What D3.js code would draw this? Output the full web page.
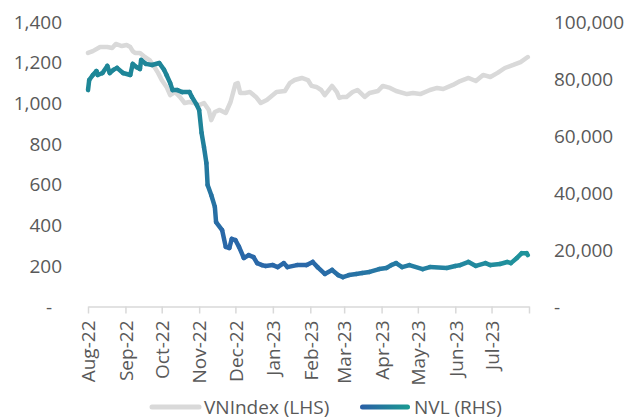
<!DOCTYPE html>
<meta charset="utf-8">
<head>
    <script src="https://cdn.jsdelivr.net/npm/d3@7"></script>
</head>
<style>
    body { margin: 0; background: white; }
    text { font-family: "Open Sans", sans-serif; font-size: 19px; fill: #595959; }
</style>
<body>
<div id="my_dataviz"></div>
<script>

// VNIndex (left axis)
var vnDates = ["2022-08-01","2022-08-05","2022-08-11","2022-08-17","2022-08-21","2022-08-24","2022-08-29","2022-09-02",
  "2022-09-05","2022-09-07","2022-09-09","2022-09-13","2022-09-17","2022-09-21","2022-09-25","2022-09-28","2022-10-01",
  "2022-10-05","2022-10-08","2022-10-12","2022-10-16","2022-10-20","2022-10-24","2022-10-28","2022-11-01","2022-11-05",
  "2022-11-09","2022-11-11","2022-11-14","2022-11-18","2022-11-23","2022-11-27","2022-12-01","2022-12-03","2022-12-05",
  "2022-12-09","2022-12-13","2022-12-18","2022-12-22","2022-12-27","2023-01-04","2023-01-11","2023-01-15","2023-01-19",
  "2023-01-25","2023-01-30","2023-02-02","2023-02-06","2023-02-10","2023-02-13","2023-02-19","2023-02-23","2023-02-25",
  "2023-02-28","2023-03-03","2023-03-08","2023-03-12","2023-03-18","2023-03-22","2023-03-29","2023-04-02","2023-04-08",
  "2023-04-13","2023-04-22","2023-04-27","2023-05-03","2023-05-11","2023-05-17","2023-05-22","2023-05-30","2023-06-05",
  "2023-06-12","2023-06-18","2023-06-24","2023-06-30","2023-07-06","2023-07-12","2023-07-19","2023-07-25","2023-07-31"];
var vnValues = [1248,1257,1277,1277,1272,1292,1282,1287,
  1277,1257,1248,1248,1228,1213,1179,1150,1115,
  1081,1041,1056,1032,1002,1007,1002,992,1002,
  968,918,958,968,953,1007,1095,1100,1051,
  1051,1056,1032,1002,1017,1056,1061,1100,1115,
  1125,1115,1086,1081,1066,1041,1086,1056,1027,
  1032,1032,1056,1066,1032,1051,1061,1086,1076,
  1061,1046,1051,1046,1066,1076,1071,1091,1110,
  1125,1110,1140,1130,1150,1174,1189,1203,1228];

// NVL (right axis)
var nvlDates = ["2022-08-01","2022-08-02","2022-08-05","2022-08-08","2022-08-09","2022-08-13","2022-08-17","2022-08-19",
  "2022-08-22","2022-08-25","2022-08-30","2022-09-05","2022-09-07","2022-09-10","2022-09-13","2022-09-14","2022-09-18",
  "2022-09-23","2022-09-29","2022-10-03","2022-10-05","2022-10-08","2022-10-10","2022-10-14","2022-10-18","2022-10-24",
  "2022-10-26","2022-10-30","2022-11-01","2022-11-03","2022-11-05","2022-11-07","2022-11-08","2022-11-11","2022-11-14",
  "2022-11-15","2022-11-20","2022-11-23","2022-11-26","2022-11-28","2022-12-01","2022-12-04","2022-12-08","2022-12-12",
  "2022-12-16","2022-12-19","2022-12-23","2022-12-26","2023-01-01","2023-01-05","2023-01-10","2023-01-13","2023-01-21",
  "2023-01-29","2023-02-03","2023-02-07","2023-02-13","2023-02-19","2023-02-24","2023-02-28","2023-03-05","2023-03-11",
  "2023-03-16","2023-03-22","2023-03-30","2023-04-05","2023-04-09","2023-04-13","2023-04-18","2023-04-24","2023-05-05",
  "2023-05-11","2023-05-25","2023-06-01","2023-06-05","2023-06-12","2023-06-18","2023-06-26","2023-06-30","2023-07-08",
  "2023-07-14","2023-07-17","2023-07-22","2023-07-26","2023-07-30","2023-07-31"];
var nvlValues = [76100,79650,81400,82800,81400,82100,84600,82100,
  83200,83900,82100,81400,85300,84200,83500,86700,85300,
  84900,85600,83200,81400,78600,76100,76100,75400,75400,
  73700,70900,69100,61100,56100,50500,42800,39300,35100,
  29800,27000,21100,20700,23900,23500,21100,17200,18200,
  17500,15400,14700,14400,14700,14000,15400,14000,14700,
  14700,15800,14000,11600,13000,11200,10500,11200,11600,
  11900,12300,13300,13700,14700,15400,14000,14700,13300,
  14000,13700,14400,14700,15800,14400,15400,14700,15100,
  15800,15400,17200,18900,18900,18200];

var monthTicks = ["2022-08-01","2022-09-01","2022-10-01","2022-11-01","2022-12-01","2023-01-01","2023-02-01",
  "2023-03-01","2023-04-01","2023-05-01","2023-06-01","2023-07-01","2023-08-01"];
var leftTicks = [0, 200, 400, 600, 800, 1000, 1200, 1400];
var rightTicks = [0, 20000, 40000, 60000, 80000, 100000];

var width = 628, height = 420;
var plot = {left: 88, right: 529, top: 22, bottom: 307};

var parse = d3.utcParse("%Y-%m-%d");
var fmtMonth = d3.utcFormat("%b-%y");
var fmtNum = d3.format(",");

var svg = d3.select("#my_dataviz").append("svg")
    .attr("width", width)
    .attr("height", height);

var x = d3.scaleUtc()
    .domain([parse("2022-08-01"), parse("2023-08-01")])
    .range([plot.left, plot.right]);
var yL = d3.scaleLinear().domain([0, 1400]).range([plot.bottom, plot.top]);
var yR = d3.scaleLinear().domain([0, 100000]).range([plot.bottom, plot.top]);

// x axis
var xAxis = svg.append("g")
    .attr("transform", "translate(0," + (plot.bottom - 0.5) + ")")
    .call(d3.axisBottom(x)
        .tickValues(monthTicks.map(parse))
        .tickSize(7)
        .tickSizeOuter(0)
        .tickFormat(function(d, i) { return i < monthTicks.length - 1 ? fmtMonth(d) : ""; }));
xAxis.select(".domain").attr("stroke", "#d9d9d9").attr("stroke-width", 1.5);
xAxis.selectAll(".tick line").attr("stroke", "#d9d9d9").attr("stroke-width", 1.5);
xAxis.selectAll(".tick text")
    .attr("fill", "#595959")
    .attr("font-size", null)
    .attr("font-family", null)
    .attr("text-anchor", "end")
    .attr("transform", "rotate(-90)")
    .attr("x", -14)
    .attr("y", 0)
    .attr("dy", "0.36em");

// left axis
var lAxis = svg.append("g")
    .attr("transform", "translate(" + 62 + ",0)")
    .call(d3.axisLeft(yL).tickValues(leftTicks).tickSize(0)
        .tickFormat(function(d) { return d === 0 ? "-" : fmtNum(d); }));
lAxis.select(".domain").remove();
lAxis.selectAll(".tick text")
    .attr("fill", "#595959").attr("font-size", null).attr("font-family", null)
    .attr("x", function(d) { return d === 0 ? -10 : 0; });

// right axis
var rAxis = svg.append("g")
    .attr("transform", "translate(" + 554 + ",0)")
    .call(d3.axisRight(yR).tickValues(rightTicks).tickSize(0)
        .tickFormat(function(d) { return d === 0 ? "-" : fmtNum(d); }));
rAxis.select(".domain").remove();
rAxis.selectAll(".tick text")
    .attr("fill", "#595959").attr("font-size", null).attr("font-family", null)
    .attr("x", 0);

// VNIndex line
var vn = vnDates.map(function(d, i) { return [x(parse(d)), yL(vnValues[i])]; });
svg.append("path")
    .attr("d", d3.line()(vn))
    .attr("fill", "none")
    .attr("stroke", "#d9d9d9")
    .attr("stroke-width", 4.5)
    .attr("stroke-linejoin", "round")
    .attr("stroke-linecap", "round");

// NVL line, colour shifts along the path (teal -> blue -> teal)
var nvl = nvlDates.map(function(d, i) { return [x(parse(d)), yR(nvlValues[i])]; });
var cum = [0];
for (var i = 1; i < nvl.length; i++) {
    cum.push(cum[i - 1] + Math.hypot(nvl[i][0] - nvl[i - 1][0], nvl[i][1] - nvl[i - 1][1]));
}
var total = cum[cum.length - 1];
var pathColor = d3.scaleLinear()
    .domain([0, 0.3, 0.48, 0.65, 1])
    .range(["#1e8797", "#1f8499", "#2a67a8", "#2a69a8", "#1f949b"])
    .interpolate(d3.interpolateRgb);

svg.append("g").selectAll("line")
    .data(d3.range(nvl.length - 1))
    .enter().append("line")
    .attr("x1", function(i) { return nvl[i][0]; })
    .attr("y1", function(i) { return nvl[i][1]; })
    .attr("x2", function(i) { return nvl[i + 1][0]; })
    .attr("y2", function(i) { return nvl[i + 1][1]; })
    .attr("stroke", function(i) { return pathColor((cum[i] + cum[i + 1]) / 2 / total); })
    .attr("stroke-width", 4.5)
    .attr("stroke-linecap", "round");

// legend
var defs = svg.append("defs");
var lg = defs.append("linearGradient").attr("id", "nvlGrad");
lg.append("stop").attr("offset", "0%").attr("stop-color", "#2a5ea6");
lg.append("stop").attr("offset", "100%").attr("stop-color", "#1a9b92");

var legend = svg.append("g").attr("transform", "translate(0,407)");
legend.append("line").attr("x1", 152).attr("x2", 199).attr("y1", 0).attr("y2", 0)
    .attr("stroke", "#d9d9d9").attr("stroke-width", 5).attr("stroke-linecap", "round");
legend.append("text").attr("x", 204).attr("dy", "0.35em").text("VNIndex (LHS)");
legend.append("rect").attr("x", 360).attr("y", -2.5).attr("width", 50).attr("height", 5).attr("rx", 2.5)
    .attr("fill", "url(#nvlGrad)");
legend.append("text").attr("x", 414).attr("dy", "0.35em").text("NVL (RHS)");

</script>
</body>
